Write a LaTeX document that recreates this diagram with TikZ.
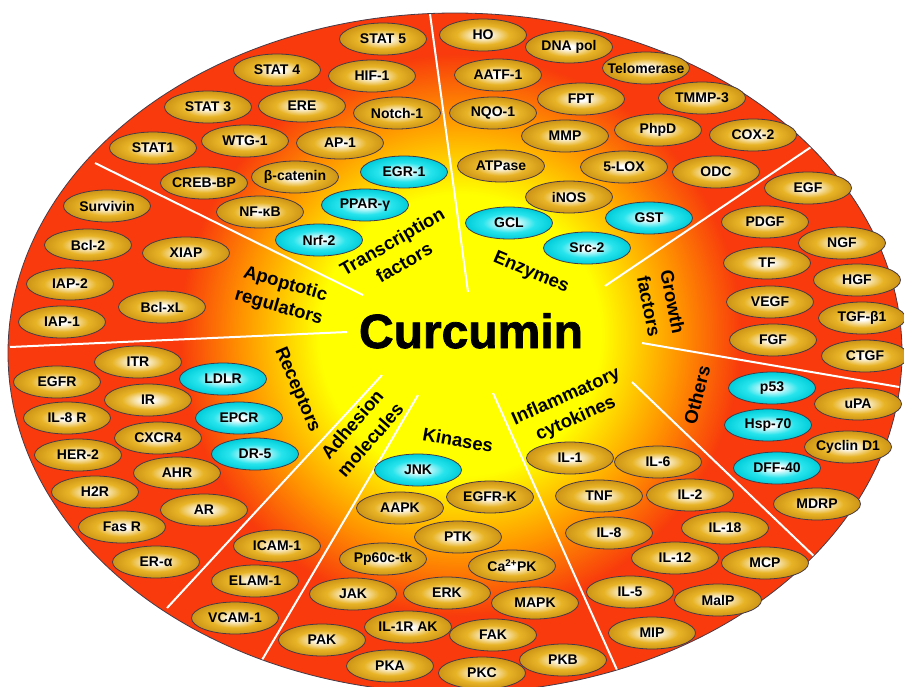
\documentclass[tikz,border=0pt]{standalone}
\usepackage{fontspec}
\setmainfont{Liberation Sans}
\newfontfamily\heavyfont[FakeBold=1.6]{Liberation Sans Bold}
\usetikzlibrary{shapes.geometric}
\definecolor{bgred}{RGB}{248,58,12}
\definecolor{bgorange}{RGB}{255,150,0}
\definecolor{bgyellow}{RGB}{255,255,0}
\definecolor{goldA}{RGB}{232,180,38}
\definecolor{goldB}{RGB}{205,148,22}
\definecolor{cyanA}{RGB}{40,228,236}
\definecolor{cyanB}{RGB}{0,205,218}
\definecolor{rimc}{RGB}{70,58,72}
\pgfdeclareradialshading{goldshade}{\pgfpoint{0bp}{0bp}}{color(0bp)=(white); color(3bp)=(white); color(15bp)=(goldA); color(25bp)=(goldB); color(50bp)=(goldB)}
\pgfdeclareradialshading{cyanshade}{\pgfpoint{0bp}{0bp}}{color(0bp)=(white); color(3bp)=(white); color(15bp)=(cyanA); color(25bp)=(cyanB); color(50bp)=(cyanB)}
\pgfdeclareradialshading{bgshade}{\pgfpoint{0bp}{0bp}}{color(0bp)=(bgyellow); color(11bp)=(bgyellow); color(17bp)=(bgorange); color(22bp)=(bgred); color(50bp)=(bgred)}
\tikzset{
  mol/.style={ellipse, draw=rimc, line width=0.8pt, minimum width=87pt, minimum height=32pt,
    inner sep=0pt, shade, shading=goldshade, text=black, font=\fontsize{14}{16}\selectfont\bfseries},
  cmol/.style={mol, shading=cyanshade},
  cat/.style={font=\fontsize{18.5}{24}\selectfont\bfseries, align=center, text=black, inner sep=0pt},
  sepline/.style={draw=white, line width=2pt},
}
\newcommand\gn[3]{\node[mol] (#1) at (#2) {\makebox[0pt]{#3}};}
\newcommand\cn[3]{\node[cmol] (#1) at (#2) {\makebox[0pt]{#3}};}
\begin{document}
\begin{tikzpicture}[x=1pt,y=-1pt]
\useasboundingbox (0,0) rectangle (904,686);
% background
\path[fill=bgred] (455,353) ellipse [x radius=447, y radius=340];
\begin{scope}
  \clip (455,353) ellipse [x radius=447, y radius=340];
  \shade[shading=bgshade] (460,335) circle [radius=320];
  % separators
  \coordinate (a1) at (430,14);  \coordinate (b1) at (468,292);
  \coordinate (a2) at (817,143); \coordinate (b2) at (605,286);
  \coordinate (a3) at (905,388); \coordinate (b3) at (642,343);
  \coordinate (a4) at (818,560); \coordinate (b4) at (632,382);
  \coordinate (a5) at (617,670); \coordinate (b5) at (493,393);
  \coordinate (a6) at (262,660); \coordinate (b6) at (418,395);
  \coordinate (a7) at (167,608); \coordinate (b7) at (382,375);
  \coordinate (a8) at (10,347);  \coordinate (b8) at (347,332);
  \coordinate (a9) at (95,163);  \coordinate (b9) at (363,295);
  \foreach \i in {1,...,9} {\draw[sepline] (a\i) -- (b\i);}
\end{scope}
\draw[draw=rimc, line width=0.8pt] (455,353) ellipse [x radius=447, y radius=340];

% centre
\node[font=\fontsize{48}{50}\heavyfont, anchor=base, inner sep=0pt] (curc) at (471,348) {Curcumin};

% category labels
\node[cat, rotate=30]  (ltf)  at (398,252) {Transcription\\factors};
\node[cat, rotate=-23] (lenz) at (531,273) {Enzymes};
\node[cat, rotate=-79] (lgf)  at (661,304) {Growth\\factors};
\node[cat, rotate=76]  (loth) at (697,395) {Others};
\node[cat, rotate=24]  (linf) at (571,408) {Inflammatory\\cytokines};
\node[cat, rotate=-10] (lkin) at (458,440) {Kinases};
\node[cat, rotate=49]  (ladh) at (361,432) {Adhesion\\molecules};
\node[cat, rotate=-67] (lrec) at (297,390) {Receptors};
\node[cat, rotate=-16] (lapo) at (282,296) {Apoptotic\\regulators};

% transcription factors
\gn{stat5}{383,39}{STAT 5}
\gn{stat4}{277,70}{STAT 4}
\gn{hif1}{372,76}{HIF-1}
\gn{stat3}{208,107}{STAT 3}
\gn{ere}{302,106}{ERE}
\gn{notch}{397,113}{Notch-1}
\gn{stat1}{153,148}{STAT1}
\gn{wtg}{245,141}{WTG-1}
\gn{ap1}{340,143}{AP-1}
\gn{creb}{204,183}{CREB-BP}
\gn{bcat}{295,177}{β-catenin}
\gn{nfkb}{260,212}{NF-κB}
\cn{egr}{404,172}{EGR-1}
\cn{ppar}{365,205}{PPAR-γ}
\cn{nrf}{319,240}{Nrf-2}

% apoptotic regulators
\gn{surv}{107,206}{Survivin}
\gn{bcl2}{88,245}{Bcl-2}
\gn{xiap}{186,253}{XIAP}
\gn{iap2}{70,284}{IAP-2}
\gn{bclxl}{162,307}{Bcl-xL}
\gn{iap1}{62,322}{IAP-1}

% receptors
\gn{itr}{138,362}{ITR}
\gn{egfr}{57,382}{EGFR}
\cn{ldlr}{223,379}{LDLR}
\gn{ir}{148,400}{IR}
\gn{il8r}{67,418}{IL-8 R}
\cn{epcr}{239,418}{EPCR}
\gn{cxcr}{158,438}{CXCR4}
\gn{her2}{78,455}{HER-2}
\cn{dr5}{255,454}{DR-5}
\gn{ahr}{177,473}{AHR}
\gn{h2r}{95,492}{H2R}
\gn{ar}{204,510}{AR}
\gn{fasr}{122,527}{Fas R}
\gn{era}{156,562}{ER-α}

% adhesion molecules
\gn{icam}{277,546}{ICAM-1}
\gn{elam}{255,581}{ELAM-1}
\gn{vcam}{235,618}{VCAM-1}

% kinases
\cn{jnk}{418,470}{JNK}
\gn{aapk}{400,508}{AAPK}
\gn{egfrk}{490,497}{EGFR-K}
\gn{ptk}{458,537}{PTK}
\gn{pp60}{383,559}{Pp60c-tk}
\gn{capk}{512,566}{Ca\textsuperscript{2+}PK}
\gn{jak}{353,594}{JAK}
\gn{erk}{447,593}{ERK}
\gn{mapk}{535,603}{MAPK}
\gn{il1rak}{408,627}{IL-1R AK}
\gn{fak}{493,635}{FAK}
\gn{pak}{322,640}{PAK}
\gn{pka}{390,666}{PKA}
\gn{pkc}{482,673}{PKC}
\gn{pkb}{563,660}{PKB}

% inflammatory cytokines
\gn{il1}{570,458}{IL-1}
\gn{il6}{658,462}{IL-6}
\gn{tnf}{599,496}{TNF}
\gn{il2}{690,495}{IL-2}
\gn{il8}{609,533}{IL-8}
\gn{il18}{725,528}{IL-18}
\gn{il12}{675,558}{IL-12}
\gn{mcp}{765,563}{MCP}
\gn{il5}{630,592}{IL-5}
\gn{malp}{718,600}{MalP}
\gn{mip}{652,633}{MIP}

% others
\cn{p53}{772,388}{p53}
\gn{upa}{858,404}{uPA}
\cn{hsp}{768,425}{Hsp-70}
\gn{cyc}{848,447}{Cyclin D1}
\cn{dff}{777,468}{DFF-40}
\gn{mdrp}{817,504}{MDRP}

% growth factors
\gn{egf}{808,188}{EGF}
\gn{pdgf}{765,222}{PDGF}
\gn{ngf}{842,243}{NGF}
\gn{tf}{767,263}{TF}
\gn{hgf}{857,280}{HGF}
\gn{vegf}{770,302}{VEGF}
\gn{tgfb}{862,318}{TGF-β1}
\gn{fgf}{773,340}{FGF}
\gn{ctgf}{865,356}{CTGF}

% enzymes
\gn{ho}{483,35}{HO}
\gn{dnapol}{569,47}{DNA pol}
\gn{aatf}{498,75}{AATF-1}
\gn{telo}{646,68}{Telomerase}
\gn{fpt}{581,99}{FPT}
\gn{tmmp}{702,98}{TMMP-3}
\gn{nqo}{493,113}{NQO-1}
\gn{mmp}{565,136}{MMP}
\gn{phpd}{658,130}{PhpD}
\gn{cox2}{753,135}{COX-2}
\gn{atpase}{501,166}{ATPase}
\gn{lox}{624,167}{5-LOX}
\gn{odc}{716,172}{ODC}
\gn{inos}{569,197}{iNOS}
\cn{gcl}{509,223}{GCL}
\cn{gst}{649,218}{GST}
\cn{src}{587,248}{Src-2}
\end{tikzpicture}
\end{document}
